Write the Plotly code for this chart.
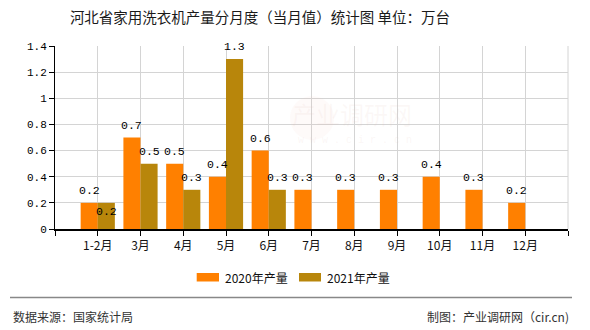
import plotly.graph_objects as go

# Monthly output of household washing machines in Hebei (10k units)
months = ["1-2月", "3月", "4月", "5月", "6月", "7月", "8月", "9月", "10月", "11月", "12月"]
output_2020 = [0.2, 0.7, 0.5, 0.4, 0.6, 0.3, 0.3, 0.3, 0.4, 0.3, 0.2]
output_2021 = [0.2, 0.5, 0.3, 1.3, 0.3, None, None, None, None, None, None]
series_names = ["2020年产量", "2021年产量"]
y_ticks = [0, 0.2, 0.4, 0.6, 0.8, 1.0, 1.2, 1.4]

COLORS = ["#FF8000", "#B8860B"]
MONO = "Liberation Mono, DejaVu Sans Mono, monospace"
CJK = "Noto Sans CJK SC, sans-serif"

x_idx = list(range(len(months)))

fig = go.Figure()
for name, vals, color in zip(series_names, [output_2020, output_2021], COLORS):
    fig.add_trace(go.Bar(
        x=x_idx, y=vals, name=name, marker=dict(color=color, line=dict(width=0)),
        showlegend=False, hoverinfo="skip",
    ))

# value labels above each bar (the first 2021 label sits just inside its bar)
label_shift = [{}, {0: -9}]
for s, (vals, offset) in enumerate(zip([output_2020, output_2021], [-0.2, 0.2])):
    for i, v in enumerate(vals):
        if v is None:
            continue
        fig.add_annotation(
            x=i + offset, y=v, text=f"{v:g}", showarrow=False,
            yshift=label_shift[s].get(i, 12.5),
            font=dict(family=MONO, size=11.5, color="#000"),
        )

# legend drawn as swatches + text
legend_items = [(196.7, 219, 223), (299, 321, 325)]
for (x0, x1, tx), name, color in zip(legend_items, series_names, COLORS):
    fig.add_shape(type="rect", xref="paper", yref="paper",
                  x0=(x0 - 55) / 513, x1=(x1 - 55) / 513,
                  y0=(229 - 281.5) / 183, y1=(229 - 273) / 183,
                  fillcolor=color, line=dict(width=0))
    fig.add_annotation(xref="paper", yref="paper", x=(tx - 55) / 513,
                       y=(229 - 277.7) / 183, xanchor="left", yanchor="middle",
                       text=name, showarrow=False,
                       font=dict(family=CJK, size=12, color="#111"))

# right border of the plot frame
fig.add_shape(type="line", xref="paper", yref="paper", x0=1, x1=1, y0=0, y1=1,
              line=dict(color="#d4d4d4", width=1))

# footer rule and source notes
fig.add_shape(type="line", xref="paper", yref="paper",
              x0=(10 - 55) / 513, x1=(572 - 55) / 513,
              y0=(229 - 297.5) / 183, y1=(229 - 297.5) / 183,
              line=dict(color="#888", width=1.5))
fig.add_annotation(xref="paper", yref="paper", x=(11 - 55) / 513, y=(229 - 316) / 183,
                   xanchor="left", yanchor="middle", showarrow=False,
                   text="数据来源：国家统计局", font=dict(family=CJK, size=12, color="#333"))
fig.add_annotation(xref="paper", yref="paper", x=(571 - 55) / 513, y=(229 - 316) / 183,
                   xanchor="right", yanchor="middle", showarrow=False,
                   text="制图：产业调研网（cir.cn)", font=dict(family=CJK, size=12, color="#333"))

# faint watermark
fig.add_annotation(xref="paper", yref="paper", x=(414 - 55) / 513, y=(229 - 113) / 183,
                   showarrow=False, text="产业调研网",
                   font=dict(family=CJK, size=24, color="rgba(225,195,190,0.12)"))
fig.add_annotation(xref="paper", yref="paper", x=(414 - 55) / 513, y=(229 - 140) / 183,
                   showarrow=False, text="w w w . c i r . c n",
                   font=dict(family=MONO, size=10, color="rgba(225,195,190,0.15)"))
fig.add_shape(type="circle", xref="paper", yref="paper",
              x0=(290 - 55) / 513, x1=(334 - 55) / 513,
              y0=(229 - 140) / 183, y1=(229 - 96) / 183,
              fillcolor="rgba(240,190,180,0.08)", line=dict(width=0), layer="above")

fig.update_layout(
    width=590, height=330,
    margin=dict(l=55, r=22, t=46, b=101),
    paper_bgcolor="white", plot_bgcolor="white",
    barmode="group", bargap=0.2, bargroupgap=0,
    title=dict(text="河北省家用洗衣机产量分月度（当月值）统计图 单位：万台",
               x=260 / 590, xanchor="center", xref="container",
               y=1 - 18 / 330, yanchor="middle", yref="container",
               font=dict(family=CJK, size=14.5, color="#1a1a1a")),
    xaxis=dict(
        range=[-1, len(months)],
        tickmode="array",
        tickvals=[-1] + x_idx + [len(months)],
        ticktext=[""] + months + [""],
        ticks="outside", ticklen=5, tickcolor="#000",
        showgrid=True, gridcolor="#d4d4d4", gridwidth=1,
        showline=True, linecolor="#000", linewidth=1.5,
        tickfont=dict(family=CJK, size=12, color="#111"),
        zeroline=False,
    ),
    yaxis=dict(
        range=[0, 1.4],
        tickmode="array", tickvals=y_ticks, ticktext=[f"{t:g}" for t in y_ticks],
        ticks="outside", ticklen=5, tickcolor="#000",
        showgrid=True, gridcolor="#d4d4d4", gridwidth=1,
        showline=True, linecolor="#000", linewidth=1,
        tickfont=dict(family=MONO, size=11, color="#000"),
        zeroline=False,
    ),
)

fig.write_html("out.html")
